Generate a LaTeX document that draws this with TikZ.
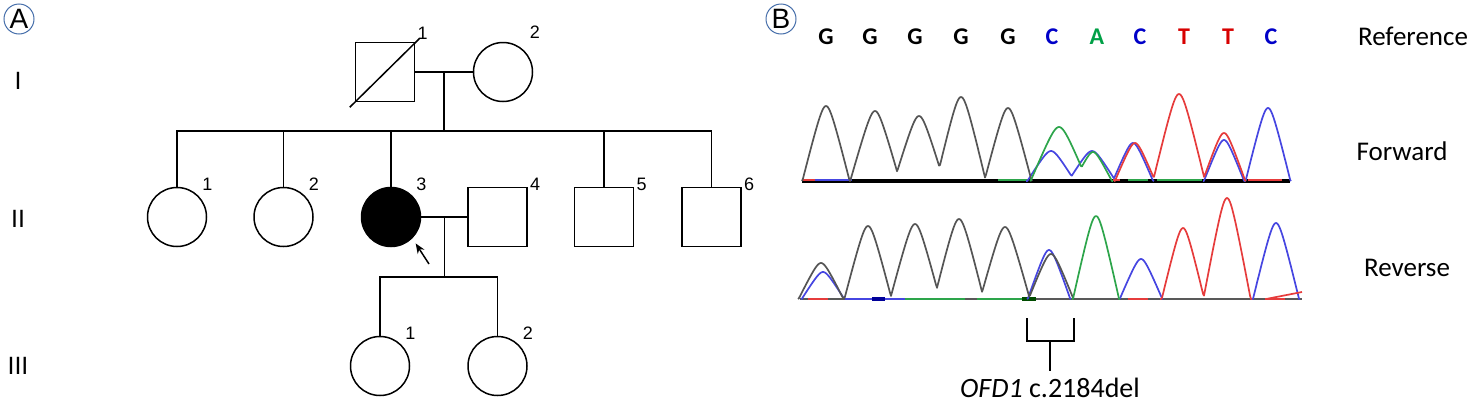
\documentclass[tikz,border=0pt]{standalone}
\usepackage{fontspec}
\setmainfont{Liberation Sans}
\newfontfamily\calibri{Carlito}
\usetikzlibrary{positioning,arrows.meta}

\definecolor{trgray}{RGB}{85,85,85}
\definecolor{trblue}{RGB}{70,70,225}
\definecolor{trred}{RGB}{230,60,60}
\definecolor{trgreen}{RGB}{45,165,75}
\definecolor{seqblue}{RGB}{0,0,200}
\definecolor{seqgreen}{RGB}{0,160,70}
\definecolor{seqred}{RGB}{215,0,0}
\definecolor{ringblue}{RGB}{70,110,170}

\newcommand\pk[3]{#2*(1.3-sqrt((1.07*(\x-#1)/#3)^2+0.09))}

\tikzset{
  female/.style={circle,draw,line width=0.75pt,minimum size=29.5pt,inner sep=0pt},
  male/.style={rectangle,draw,line width=0.75pt,minimum size=29.5pt,inner sep=0pt},
  affected/.style={fill=black},
  idnum/.style={font=\fontsize{9}{9}\selectfont,inner sep=1pt},
  cnum/.style={label={[idnum,anchor=south west,xshift=0.75pt,yshift=1.5pt]above right:#1}},
  snum/.style={label={[idnum,anchor=base west,yshift=-2pt]above right:#1}},
  gen/.style={font=\fontsize{12.5}{12.5}\selectfont},
  panel/.style={circle,draw=ringblue,line width=0.5pt,minimum size=15pt,inner sep=0pt,font=\fontsize{14}{14}\selectfont},
  ntide/.style={font=\calibri\bfseries\fontsize{12}{12}\selectfont},
  lbl/.style={font=\calibri\fontsize{13.5}{13.5}\selectfont},
  chrom/.style={line width=0.85pt,line join=round},
  tie/.style={line width=0.75pt},
  brk/.style={line width=1pt}
}

\begin{document}
\begin{tikzpicture}[x=0.5pt,y=-0.5pt]
  \useasboundingbox (0,0) rectangle (1481,402);

  \node[panel] (pa) at (19,19) {A};
  \node[panel] (pb) at (781,19) {B};

  \node[gen] (g1) at (18,81) {I};
  \node[gen] (g2) at (18,219) {II};
  \node[gen] (g3) at (18,366) {III};

  \node[male,label={[idnum,anchor=base west,yshift=1pt]above right:1}] (i1) at (385,72) {};
  \node[female,right=28.75pt of i1,label={[idnum,anchor=south west,xshift=1.5pt,yshift=5pt]above right:2}] (i2) {};
  \draw[tie] ([shift={(-5,5)}]i1.south west) -- ([shift={(4,-3)}]i1.north east);

  \node[female,cnum=1] (ii1) at (177,217) {};
  \node[female,cnum=2,right=23pt of ii1] (ii2) {};
  \node[female,affected,cnum=3,right=23.5pt of ii2] (ii3) {};
  \node[male,snum=4,right=23pt of ii3] (ii4) {};
  \node[male,snum=5,right=23pt of ii4] (ii5) {};
  \node[male,snum=6,right=23.5pt of ii5] (ii6) {};

  \node[female,cnum=1] (iii1) at (380,366) {};
  \node[female,cnum=2,right=28.5pt of iii1] (iii2) {};

  \draw[tie] (i1) -- (i2) coordinate[midway] (m1);
  \draw[tie] (m1) -- ++(0,59) coordinate (s1);
  \draw[tie] (ii1) |- (s1 -| ii6) -- (ii6);
  \foreach \k in {ii2,ii3,ii5}
    \draw[tie] (\k) -- (\k |- s1);

  \draw[tie] (ii3) -- (ii4) coordinate[midway] (m2);
  \draw[tie] (m2) -- ++(0,60) coordinate (s2);
  \draw[tie] (iii1) |- (s2 -| iii2) -- (iii2);

  \coordinate (proband) at (429,264);
  \draw[tie,-{Stealth[length=5pt,width=4pt]},shorten >=3pt] (proband) -- (ii3.south east);

  \foreach \s/\px/\col [count=\i] in {G/826/black,G/870/black,G/915/black,G/961/black,G/1008/black,C/1052/seqblue,A/1097/seqgreen,C/1140/seqblue,T/1184/seqred,T/1228/seqred,C/1271/seqblue}
    \node[ntide,text=\col] (nt\i) at (\px,37) {\s};

  \node[lbl] (ref) at (1413,36) {Reference};
  \node[lbl] (fwd) at (1402,151) {Forward};
  \node[lbl] (rev) at (1407,268) {Reverse};

  \draw[line width=2.2pt] (802,181) -- (1290,181);
  \foreach \a/\b/\col in {802/815/trred,815/852/trblue,998/1028/trgreen,1113/1120/trred,1128/1148/trgreen,1157/1202/trgreen,1248/1282/trred}
    \draw[line width=1.2pt,\col] (\a,180) -- (\b,180);
  \foreach \a/\b in {1026/1154,1203/1291}
    \draw[chrom,trblue] plot[domain=\a:\b,samples=110] (\x,{181-max(0,\pk{1051}{30}{20},\pk{1092}{30}{20},\pk{1133}{38}{17},\pk{1224}{41}{17},\pk{1268}{73}{19})});
  \draw[chrom,trgray] plot[domain=802:1032,samples=231] (\x,{181-max(0,\pk{826}{75}{20},\pk{875}{70}{21},\pk{919}{65}{21},\pk{961}{84}{21},\pk{1008}{73}{20})});
  \draw[chrom,trgreen] plot[domain=1030:1113,samples=84] (\x,{181-max(0,\pk{1059}{54}{24},\pk{1093}{29}{16})});
  \draw[chrom,trred] plot[domain=1114:1246,samples=133] (\x,{181-max(0,\pk{1135}{38}{17},\pk{1179}{87}{22},\pk{1224}{48}{18})});

  \draw[line width=1.3pt,black!65] (800,299) -- (1302,299);
  \foreach \a/\b/\col in {808/828/trred,845/905/trblue,905/965/trgreen,977/1022/trgreen,1128/1148/trred,1265/1285/trred}
    \draw[line width=1.3pt,\col] (\a,299) -- (\b,299);
  \draw[line width=1.8pt,blue!60!black] (872,299) -- (885,299);
  \draw[line width=2pt,black!70!green] (1022,299) -- (1036,299);
  \foreach \a/\b in {801/845,1027/1071,1119/1163,1252/1300}
    \draw[chrom,trblue] plot[domain=\a:\b,samples=50] (\x,{299-max(0,\pk{823}{27}{18},\pk{1049}{49}{18},\pk{1141}{40}{18},\pk{1276}{76}{19.5})});
  \draw[chrom,trgray] plot[domain=798:1075,samples=278] (\x,{299-max(0,\pk{821}{36}{19},\pk{868}{73}{20},\pk{915}{75}{21},\pk{959}{80}{21},\pk{1005}{72}{21},\pk{1051}{45}{19})});
  \draw[chrom,trgreen] plot[domain=1072:1120,samples=50] (\x,{299-max(0,\pk{1096}{83}{19.5})});
  \draw[chrom,trred] plot[domain=1160:1252,samples=93] (\x,{299-max(0,\pk{1183}{71}{18},\pk{1227}{101}{20})});
  \draw[chrom,trred] (1266,299) -- (1302,292);

  \coordinate (dl) at (1027,318);
  \coordinate (dr) at (1074,318);
  \coordinate (dm) at (1050,341);
  \draw[brk] (dl) -- ++(0,23) -| (dr);
  \node[lbl,font=\calibri\fontsize{14}{14}\selectfont,anchor=base] (mut) at (1050,397) {\textit{OFD1} c.2184del};
  \draw[brk] (dm) -- (mut);
\end{tikzpicture}
\end{document}
